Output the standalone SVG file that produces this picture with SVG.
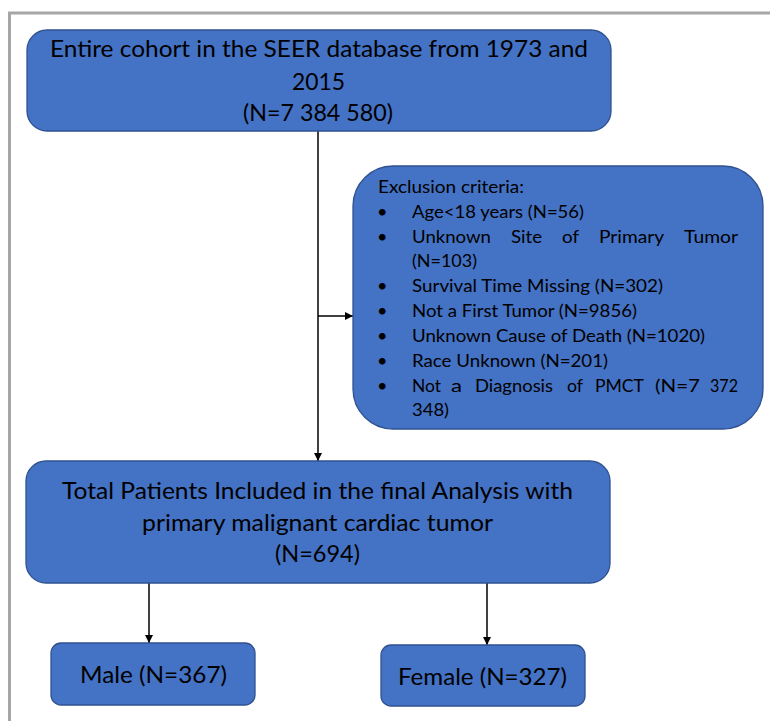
<svg xmlns="http://www.w3.org/2000/svg" width="770" height="721" viewBox="0 0 770 721">
<style>
.box{fill:#4472C4;stroke:#2F528F;stroke-width:1.3}
.t{font-family:Lato,"Liberation Sans",sans-serif;fill:#000}
.big{font-size:23px}
.sm{font-size:18px}
.conn{stroke:#000;stroke-width:1.5;fill:none}
</style>
<defs>
<marker id="ah" viewBox="0 0 10 10" refX="10" refY="5" markerWidth="8" markerHeight="8" markerUnits="userSpaceOnUse" orient="auto">
<path d="M0,0 L10,5 L0,10 z" fill="#000"/>
</marker>
</defs>
<rect width="770" height="721" fill="#fff"/>
<path d="M9.5,721 V13 H770" fill="none" stroke="#A6A6A6" stroke-width="3"/>
<g id="connectors">
<line class="conn" x1="318" y1="131" x2="318" y2="461" marker-end="url(#ah)"/>
<line class="conn" x1="318" y1="316" x2="353" y2="316" marker-end="url(#ah)"/>
<line class="conn" x1="149" y1="583" x2="149" y2="643" marker-end="url(#ah)"/>
<line class="conn" x1="487" y1="583" x2="487" y2="645" marker-end="url(#ah)"/>
</g>
<g id="node-cohort">
<rect class="box" x="27" y="30" width="584" height="101" rx="20"/>
<text class="t big" x="50" y="57" textLength="538" lengthAdjust="spacingAndGlyphs">Entire cohort in the SEER database from 1973 and</text>
<text class="t big" x="292" y="90" textLength="53" lengthAdjust="spacingAndGlyphs">2015</text>
<text class="t big" x="243" y="121" textLength="150" lengthAdjust="spacingAndGlyphs">(N=7 384 580)</text>
</g>
<g id="node-exclusion">
<rect class="box" x="353" y="166" width="410" height="263" rx="40"/>
<text class="t sm" x="378" y="193" textLength="146" lengthAdjust="spacingAndGlyphs">Exclusion criteria:</text>
<g class="t sm">
<text x="377" y="218">•</text>
<text x="377" y="243">•</text>
<text x="377" y="292">•</text>
<text x="377" y="317">•</text>
<text x="377" y="342">•</text>
<text x="377" y="367">•</text>
<text x="377" y="392">•</text>
</g>
<text class="t sm" x="412" y="218" textLength="172" lengthAdjust="spacingAndGlyphs">Age&lt;18 years (N=56)</text>
<text class="t sm" y="243"><tspan x="412" textLength="79" lengthAdjust="spacingAndGlyphs">Unknown</tspan><tspan x="511" textLength="31" lengthAdjust="spacingAndGlyphs">Site</tspan><tspan x="562" textLength="17" lengthAdjust="spacingAndGlyphs">of</tspan><tspan x="599" textLength="65" lengthAdjust="spacingAndGlyphs">Primary</tspan><tspan x="684" textLength="54" lengthAdjust="spacingAndGlyphs">Tumor</tspan></text>
<text class="t sm" x="412" y="267" textLength="65" lengthAdjust="spacingAndGlyphs">(N=103)</text>
<text class="t sm" x="412" y="292" textLength="251" lengthAdjust="spacingAndGlyphs">Survival Time Missing (N=302)</text>
<text class="t sm" x="412" y="317" textLength="225" lengthAdjust="spacingAndGlyphs">Not a First Tumor (N=9856)</text>
<text class="t sm" x="412" y="342" textLength="293" lengthAdjust="spacingAndGlyphs">Unknown Cause of Death (N=1020)</text>
<text class="t sm" x="412" y="367" textLength="196" lengthAdjust="spacingAndGlyphs">Race Unknown (N=201)</text>
<text class="t sm" y="392"><tspan x="412" textLength="29" lengthAdjust="spacingAndGlyphs">Not</tspan><tspan x="451" textLength="11" lengthAdjust="spacingAndGlyphs">a</tspan><tspan x="475" textLength="78" lengthAdjust="spacingAndGlyphs">Diagnosis</tspan><tspan x="567" textLength="16" lengthAdjust="spacingAndGlyphs">of</tspan><tspan x="595" textLength="49" lengthAdjust="spacingAndGlyphs">PMCT</tspan><tspan x="655" textLength="45" lengthAdjust="spacingAndGlyphs">(N=7</tspan><tspan x="710" textLength="28" lengthAdjust="spacingAndGlyphs">372</tspan></text>
<text class="t sm" x="412" y="416" textLength="37" lengthAdjust="spacingAndGlyphs">348)</text>
</g>
<g id="node-total">
<rect class="box" x="26" y="461" width="584" height="122" rx="20"/>
<text class="t big" x="62" y="499" textLength="511" lengthAdjust="spacingAndGlyphs">Total Patients Included in the final Analysis with</text>
<text class="t big" x="142" y="531" textLength="351" lengthAdjust="spacingAndGlyphs">primary malignant cardiac tumor</text>
<text class="t big" x="275" y="562" textLength="85" lengthAdjust="spacingAndGlyphs">(N=694)</text>
</g>
<g id="node-male">
<rect class="box" x="51" y="643" width="204" height="62" rx="10"/>
<text class="t big" x="80" y="683" textLength="147" lengthAdjust="spacingAndGlyphs">Male (N=367)</text>
</g>
<g id="node-female">
<rect class="box" x="381" y="645" width="204" height="61" rx="10"/>
<text class="t big" x="398" y="685" textLength="169" lengthAdjust="spacingAndGlyphs">Female (N=327)</text>
</g>
</svg>
